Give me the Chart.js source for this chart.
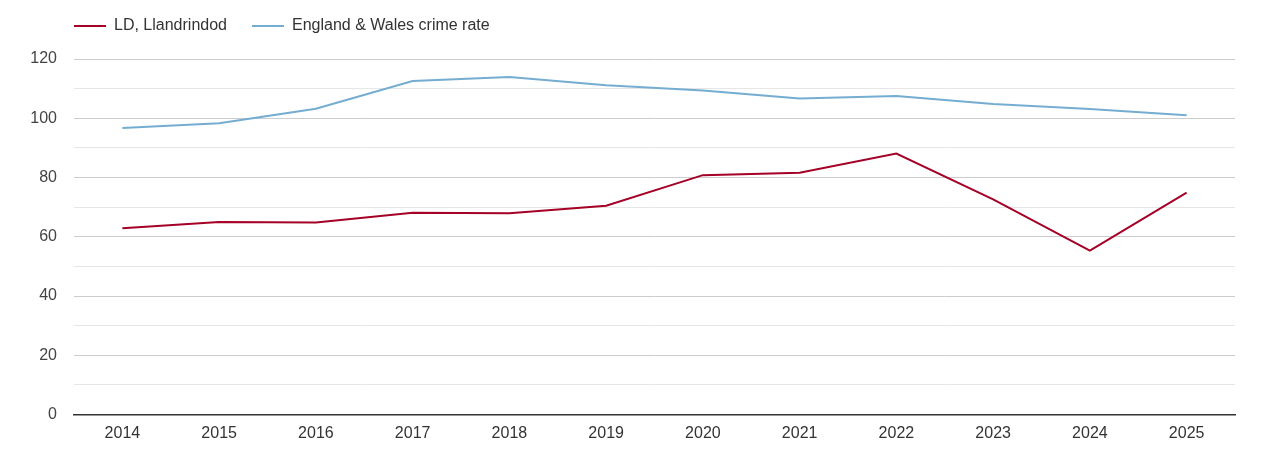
<!DOCTYPE html>
<html>
<head>
<meta charset="utf-8">
<script src="https://cdn.jsdelivr.net/npm/chart.js@4"></script>
<style>
  html, body { margin: 0; padding: 0; background: #fff; }
  #wrap { width: 1270px; height: 450px; position: relative; }
</style>
</head>
<body>
<div id="wrap"><canvas id="chart"></canvas></div>
<script>
const years = ["2014", "2015", "2016", "2017", "2018", "2019", "2020", "2021", "2022", "2023", "2024", "2025"];
const llandrindod = [62.9, 65.0, 64.8, 68.1, 67.9, 70.5, 80.8, 81.6, 88.1, 72.6, 55.3, 74.9];
const englandWales = [96.7, 98.3, 103.2, 112.6, 113.9, 111.1, 109.4, 106.7, 107.5, 104.8, 103.1, 101.0];
const yTicks = [0, 20, 40, 60, 80, 100, 120];

const RED = "#a50026";
const BLUE = "#74add1";

// push the legend over the plot and give it the right height
const legendPlace = {
  id: "legendPlace",
  afterInit(chart) {
    const fit = chart.legend.fit;
    chart.legend.fit = function () {
      fit.bind(chart.legend)();
      this.height = 59;
    };
  },
  afterLayout(chart) {
    const lg = chart.legend;
    const w = lg.right - lg.left;
    lg.left = chart.chartArea.left - 25;
    lg.right = lg.left + w;
    lg.top = -7;
  },
};

Chart.defaults.font.family = "'Liberation Sans', Arial, sans-serif";
Chart.defaults.font.size = 16;

new Chart(document.getElementById("chart"), {
  type: "line",
  data: {
    labels: years,
    datasets: [
      {
        label: "LD, Llandrindod",
        data: llandrindod,
        borderColor: RED,
        backgroundColor: RED,
        borderWidth: 2,
        pointRadius: 0,
        tension: 0,
      },
      {
        label: "England & Wales crime rate",
        data: englandWales,
        borderColor: BLUE,
        backgroundColor: BLUE,
        borderWidth: 2,
        pointRadius: 0,
        tension: 0,
      },
    ],
  },
  options: {
    responsive: true,
    maintainAspectRatio: false,
    animation: false,
    layout: { padding: { right: 35 } },
    plugins: {
      legend: {
        display: true,
        position: "top",
        align: "start",
        labels: {
          boxWidth: 32,
          boxHeight: 0,
          padding: 25,
          color: "#333",
          font: { size: 16 },
        },
      },
      tooltip: { enabled: false },
    },
    scales: {
      x: {
        offset: true,
        grid: { display: false, drawTicks: false },
        border: { display: true, color: "#333", width: 1.5 },
        ticks: { color: "#333", padding: 9, maxRotation: 0 },
        afterFit: (s) => { s.height = 35.5; },
      },
      y: {
        min: 0,
        max: 120,
        border: { display: false },
        grid: {
          drawTicks: false,
          color: (c) => (c.tick && c.tick.value % 20 === 0 ? "#cccccc" : "#e6e6e6"),
          lineWidth: 1,
        },
        ticks: {
          stepSize: 10,
          padding: 17,
          color: "#444",
          callback: (v) => (yTicks.includes(v) ? String(v) : ""),
        },
        afterFit: (s) => { s.width = 74; },
      },
    },
  },
  plugins: [legendPlace],
});
</script>
</body>
</html>
